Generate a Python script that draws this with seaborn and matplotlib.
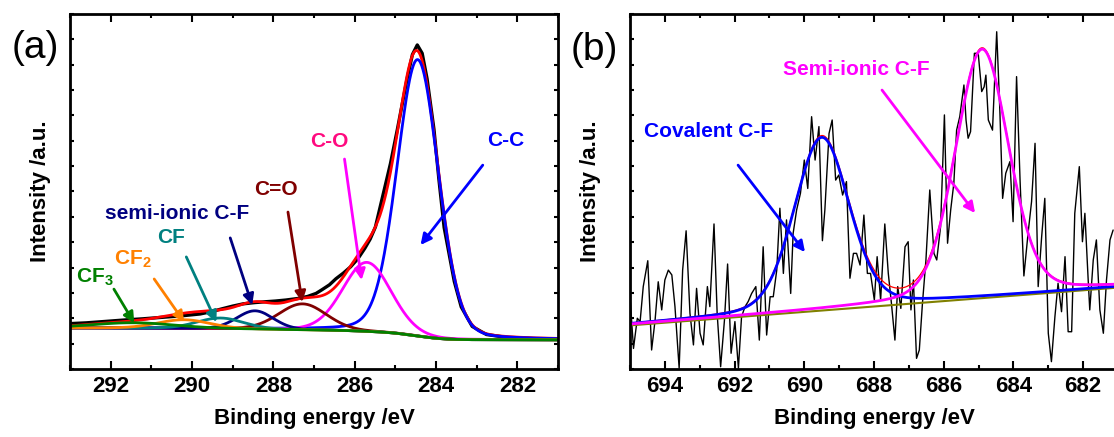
import numpy as np
import pandas as pd
import matplotlib
matplotlib.use("Agg")
import matplotlib.pyplot as plt
import seaborn as sns
from matplotlib.ticker import MultipleLocator

# ---------------- data: panel (a) C1s ----------------
a_raw_be = [293.0, 292.6, 292.1, 291.6, 291.2, 290.8, 290.3, 289.8, 289.5, 289.27,
            289.0, 288.74, 288.45, 288.21, 287.95, 287.69, 287.4, 287.16, 286.95, 286.81,
            286.62, 286.46, 286.28, 286.10, 285.92, 285.75, 285.62, 285.49, 285.32, 285.12,
            284.95, 284.71, 284.58, 284.46, 284.34, 284.22, 284.05, 283.93, 283.80, 283.55,
            283.38, 283.11, 282.76, 282.23, 281.53, 281.0]
a_raw_int = [1.79, 1.82, 1.88, 1.94, 1.98, 2.03, 2.09, 2.17, 2.27, 2.37,
             2.48, 2.57, 2.62, 2.65, 2.68, 2.72, 2.78, 2.86, 2.98, 3.12,
             3.32, 3.56, 3.78, 4.03, 4.35, 4.76, 5.12, 5.60, 6.75, 8.10,
             9.45, 11.45, 12.40, 12.78, 12.45, 11.45, 9.45, 7.50, 5.58, 3.45,
             2.45, 1.68, 1.36, 1.24, 1.19, 1.17]

a_names = ["C-C", "C-O", "C=O", "semi-ionic C-F", "CF", "CF2", "CF3"]
a_centers = [284.45, 285.70, 287.28, 288.45, 289.30, 290.20, 291.45]
a_heights = [10.9, 2.72, 1.02, 0.72, 0.42, 0.34, 0.21]
a_fwhm = [1.20, 1.40, 1.38, 1.05, 1.35, 1.50, 2.40]
a_eta = [0.15, 0.10, 0.10, 0.10, 0.10, 0.10, 0.10]
a_base_low, a_base_high = 1.15, 1.62   # background at 281 eV and 293 eV

# ---------------- data: panel (b) F1s ----------------
b_raw_be = [695.00, 694.90, 694.79, 694.71, 694.62, 694.49, 694.38, 694.28, 694.19, 694.09,
            694.00, 693.90, 693.80, 693.71, 693.59, 693.49, 693.39, 693.28, 693.18, 693.09,
            692.99, 692.90, 692.78, 692.71, 692.59, 692.50, 692.40, 692.29, 692.20, 692.10,
            691.99, 691.89, 691.80, 691.70, 691.61, 691.51, 691.39, 691.29, 691.18, 691.08,
            690.98, 690.89, 690.79, 690.70, 690.60, 690.51, 690.39, 690.32, 690.22, 690.11,
            690.00, 689.90, 689.79, 689.69, 689.58, 689.48, 689.41, 689.29, 689.20, 689.10,
            689.01, 688.90, 688.79, 688.69, 688.59, 688.50, 688.40, 688.29, 688.19, 688.10,
            687.99, 687.91, 687.81, 687.69, 687.59, 687.50, 687.40, 687.32, 687.23, 687.11,
            687.02, 686.94, 686.87, 686.78, 686.70, 686.61, 686.51, 686.40, 686.28, 686.20,
            686.09, 685.98, 685.89, 685.80, 685.71, 685.63, 685.54, 685.42, 685.36, 685.30,
            685.23, 685.12, 685.01, 684.91, 684.84, 684.79, 684.72, 684.60, 684.48, 684.39,
            684.31, 684.22, 684.10, 684.01, 683.91, 683.81, 683.70, 683.58, 683.48, 683.38,
            683.29, 683.19, 683.10, 683.00, 682.91, 682.81, 682.72, 682.62, 682.52, 682.43,
            682.33, 682.24, 682.11, 682.02, 681.95, 681.86, 681.81, 681.71, 681.62, 681.52,
            681.42, 681.33, 681.23, 681.14]
b_raw_int = [2.85, 0.81, 2.00, 1.87, 3.25, 4.27, 0.75, 1.93, 3.44, 2.33,
             3.51, 3.90, 3.71, 2.46, 0.03, 3.90, 5.45, 2.20, 0.95, 3.18,
             1.41, 0.95, 3.25, 2.46, 5.72, 2.20, 0.09, 1.93, 4.14, 0.62,
             1.87, 0.03, 2.06, 2.46, 2.66, 2.98, 3.25, 1.14, 4.82, 1.34,
             2.85, 2.85, 3.90, 6.34, 3.77, 5.88, 2.98, 5.35, 6.27, 6.93,
             8.24, 7.12, 9.95, 8.24, 9.56, 5.06, 6.27, 9.29, 9.82, 7.45,
             7.65, 6.86, 7.39, 3.58, 4.56, 4.56, 4.10, 6.07, 3.77, 3.77,
             2.72, 4.43, 2.72, 5.72, 3.77, 2.59, 1.14, 3.25, 2.39, 4.82,
             5.02, 2.33, 3.51, 0.42, 0.75, 2.59, 4.30, 7.06, 4.56, 4.30,
             5.61, 10.02, 4.96, 6.27, 7.32, 9.42, 9.95, 11.20, 9.82, 9.10,
             9.36, 12.45, 12.45, 10.94, 11.13, 11.59, 9.82, 9.42, 13.30, 10.21,
             6.73, 7.72, 8.18, 5.81, 11.53, 7.45, 3.67, 5.35, 6.60, 8.90,
             3.25, 5.22, 6.73, 1.41, 0.29, 2.06, 3.38, 2.26, 4.43, 1.47,
             1.47, 6.14, 7.98, 5.02, 6.14, 3.64, 2.33, 4.30, 5.09, 2.33,
             1.41, 3.51, 5.09, 5.48]

b_names = ["Covalent C-F", "Semi-ionic C-F"]
b_centers = [689.50, 684.90]
b_heights = [6.79, 9.78]
b_fwhm = [1.85, 1.80]
b_eta = [0.20, 0.20]
b_base_left, b_base_right = 1.76, 3.25   # linear background at 695 eV and 681 eV


def pvoigt(x, c, h, w, eta):
    d = (x - c) / w
    g = np.exp(-4 * np.log(2) * d ** 2)
    l = 1.0 / (1.0 + 4 * d ** 2)
    return h * (eta * l + (1 - eta) * g)


# ---------------- style ----------------
sns.set_theme(style="ticks")
plt.rcParams["font.family"] = ["Liberation Sans", "DejaVu Sans"]
plt.rcParams["font.weight"] = "bold"
plt.rcParams["text.color"] = "black"
plt.rcParams["axes.labelcolor"] = "black"
plt.rcParams["xtick.color"] = "black"
plt.rcParams["ytick.color"] = "black"
plt.rcParams["mathtext.fontset"] = "custom"
plt.rcParams["mathtext.rm"] = "Liberation Sans:bold"
plt.rcParams["mathtext.bf"] = "Liberation Sans:bold"
plt.rcParams["mathtext.it"] = "Liberation Sans:bold"

fig = plt.figure(figsize=(11.14, 4.37), dpi=100)
W, H = 1114, 437
axa = fig.add_axes([70 / W, 68 / H, 488 / W, 355 / H])
axb = fig.add_axes([630 / W, 68 / H, 488 / W, 355 / H])

# ---------------- panel (a) ----------------
xa = np.linspace(281.0, 293.0, 1201)
comps_a = [pvoigt(xa, c, h, w, e) for c, h, w, e in zip(a_centers, a_heights, a_fwhm, a_eta)]
tot_a = np.sum(comps_a, axis=0)
cum = np.concatenate([[0.0], np.cumsum((tot_a[1:] + tot_a[:-1]) / 2 * np.diff(xa))])
base_a = a_base_low + (a_base_high - a_base_low) * cum / cum[-1]
env_a = base_a + tot_a

a_colors = ["#0000ff", "#ff00ff", "#800000", "#000080", "#008080", "#ff8000", "#008000"]
a_text_colors = ["#0000ff", "#ff0a7f", "#800000", "#000080", "#008080", "#ff8000", "#008000"]

raw_a = pd.DataFrame({"be": a_raw_be, "intensity": a_raw_int})
sns.lineplot(data=raw_a, x="be", y="intensity", ax=axa, color="black", lw=2.4, estimator=None)
sns.lineplot(x=xa, y=env_a, ax=axa, color="#ff0000", lw=2.0, estimator=None)
for comp, col in zip(comps_a, a_colors):
    sns.lineplot(x=xa, y=base_a + comp, ax=axa, color=col, lw=2.0, estimator=None)

axa.set_xlim(293, 281)
axa.set_ylim(0, 14)

# annotations (text position, arrow tail, arrow head) in data coords
a_labels = ["C-C", "C-O", "C=O", "semi-ionic C-F", "CF", r"$\mathrm{CF_2}$", r"$\mathrm{CF_3}$"]
a_text_pos = [(282.29, 9.03), (286.62, 8.99), (287.93, 7.06), (290.36, 6.15),
              (290.51, 5.17), (291.45, 4.34), (292.38, 3.63)]
a_tail = [(282.85, 8.04), (286.25, 8.28), (287.64, 6.19), (289.06, 5.17),
          (290.14, 4.42), (290.93, 3.55), (291.92, 3.15)]
a_head = [(284.38, 4.89), (285.83, 3.51), (287.29, 2.64), (288.52, 2.52),
          (289.40, 1.85), (290.19, 1.85), (291.42, 1.81)]
for lab, tp, tl, hd, col, tcol in zip(a_labels, a_text_pos, a_tail, a_head, a_colors, a_text_colors):
    axa.text(tp[0], tp[1], lab, color=tcol, fontsize=15, fontweight="bold",
             ha="center", va="center")
    axa.annotate("", xy=hd, xytext=tl,
                 arrowprops=dict(arrowstyle="-|>", color=col, lw=2.0,
                                 mutation_scale=16, shrinkA=0, shrinkB=0))

# ---------------- panel (b) ----------------
xb = np.linspace(681.0, 695.0, 1401)
base_b = b_base_right + (b_base_left - b_base_right) * (xb - 681.0) / 14.0
comps_b = [pvoigt(xb, c, h, w, e) for c, h, w, e in zip(b_centers, b_heights, b_fwhm, b_eta)]
env_b = base_b + np.sum(comps_b, axis=0)

raw_b = pd.DataFrame({"be": b_raw_be, "intensity": b_raw_int})
sns.lineplot(data=raw_b, x="be", y="intensity", ax=axb, color="black", lw=1.0, estimator=None)
sns.lineplot(x=xb, y=base_b - 0.04, ax=axb, color="#808000", lw=1.5, estimator=None)
sns.lineplot(x=xb, y=env_b, ax=axb, color="#ff0000", lw=0.9, estimator=None)
b_colors = ["#0000ff", "#ff00ff"]
for comp, col in zip(comps_b, b_colors):
    sns.lineplot(x=xb, y=base_b + comp, ax=axb, color=col, lw=2.0, estimator=None)

axb.set_xlim(695, 681)
axb.set_ylim(0, 14)

b_text_pos = [(692.76, 9.38), (688.52, 11.83)]
b_tail = [(691.90, 8.04), (687.77, 11.00)]
b_head = [(689.98, 4.61), (685.10, 6.15)]
for lab, tp, tl, hd, col in zip(b_names, b_text_pos, b_tail, b_head, b_colors):
    axb.text(tp[0], tp[1], lab, color=col, fontsize=15, fontweight="bold",
             ha="center", va="center")
    axb.annotate("", xy=hd, xytext=tl,
                 arrowprops=dict(arrowstyle="-|>", color=col, lw=2.0,
                                 mutation_scale=16, shrinkA=0, shrinkB=0))

# ---------------- axes styling ----------------
for ax, lp in ((axa, 14), (axb, 21)):
    ax.xaxis.set_major_locator(MultipleLocator(2))
    ax.xaxis.set_minor_locator(MultipleLocator(1))
    ax.yaxis.set_major_locator(MultipleLocator(1))
    ax.tick_params(axis="x", which="major", direction="in", length=5.5, width=1.5,
                   top=True, bottom=True, labelsize=16, pad=5, colors="black")
    ax.tick_params(axis="x", which="minor", direction="in", length=3, width=1.5,
                   top=True, bottom=True, colors="black")
    ax.tick_params(axis="y", which="major", direction="in", length=3, width=1.5,
                   left=True, right=True, labelleft=False, colors="black")
    for lab in ax.get_xticklabels():
        lab.set_fontweight("bold")
    for sp in ax.spines.values():
        sp.set_visible(True)
        sp.set_linewidth(2.0)
        sp.set_color("black")
    ax.set_xlabel("Binding energy /eV", fontsize=16, fontweight="bold", labelpad=8, color="black")
    ax.set_ylabel("Intensity /a.u.", fontsize=16, fontweight="bold", labelpad=lp, color="black")
    ax.set_facecolor("white")

fig.text(35 / W, 1 - 48 / H, "(a)", fontsize=28, fontweight="normal", ha="center", va="center",
         color="black")
fig.text(594 / W, 1 - 50 / H, "(b)", fontsize=28, fontweight="normal", ha="center", va="center",
         color="black")

fig.savefig("out.png", dpi=100, facecolor="white")
